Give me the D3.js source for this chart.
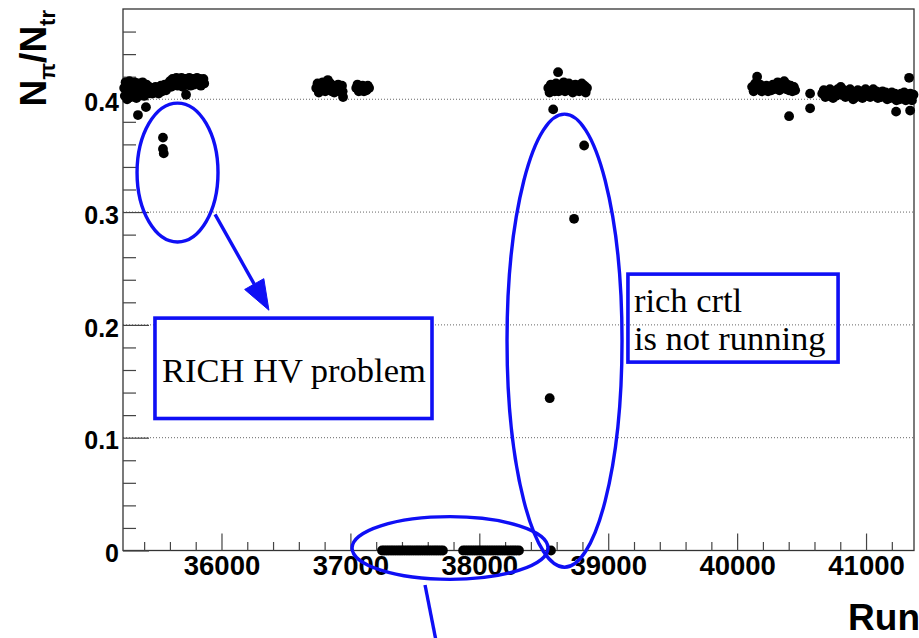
<!DOCTYPE html>
<html>
<head>
<meta charset="utf-8">
<script src="https://cdn.jsdelivr.net/npm/d3@7"></script>
<style>
  html, body { margin: 0; padding: 0; background: #ffffff; }
  svg { display: block; }
</style>
</head>
<body>
<script>
// Pion fraction N_pi/N_tr per run.
const runNumber = [
  // 35200-35900 period
  35245, 35250, 35256, 35262, 35268, 35274, 35280, 35286, 35292, 35298,
  35304, 35310, 35316, 35322, 35328, 35334, 35340, 35346, 35352, 35358,
  35364, 35370, 35376, 35382, 35388, 35394, 35400, 35406, 35412, 35418,
  35424, 35432, 35440, 35448, 35456, 35464, 35472, 35480, 35488, 35496,
  35504, 35512, 35520, 35530, 35540, 35550, 35560, 35570, 35580, 35590,
  35600, 35610, 35620, 35630, 35640, 35650, 35660, 35670, 35680, 35690,
  35700, 35710, 35720, 35725, 35730, 35740, 35750, 35760, 35770, 35780,
  35790, 35800, 35810, 35820, 35830, 35840, 35850, 35860, 35866,
  35352, 35414, 35546, 35546, 35552,
  // 36700-37200 period
  36735, 36745, 36755, 36765, 36775, 36785, 36795, 36805, 36815, 36825,
  36835, 36845, 36855, 36865, 36875, 36885, 36895, 36905, 36915, 36925,
  36935, 36940, 36943,
  37045, 37055, 37065, 37075, 37085, 37095, 37105, 37115, 37125, 37135, 37145,
  // 37200-38350: empty ratio
  37245, 37262, 37280, 37297, 37315, 37332, 37350, 37368, 37385, 37402,
  37420, 37438, 37455, 37472, 37490, 37508, 37525, 37542, 37560, 37578,
  37595, 37612, 37630, 37648, 37665, 37682, 37700, 37718,
  37874, 37892, 37910, 37928, 37946, 37964, 37982, 38000, 38018, 38036,
  38054, 38072, 38090, 38108, 38126, 38144, 38162, 38180, 38198, 38216,
  38234, 38252, 38270, 38288, 38308,
  // 38500-38850 period
  38535, 38545, 38555, 38565, 38575, 38585, 38595, 38605, 38615, 38625,
  38635, 38645, 38655, 38665, 38675, 38685, 38695, 38705, 38715, 38725,
  38735, 38745, 38755, 38765, 38775, 38785, 38795, 38805, 38815, 38825, 38835,
  38611, 38573, 38813, 38735, 38546, 38556,
  // 40100-40450 period
  40116, 40128, 40140, 40155, 40165, 40178, 40190, 40202, 40215, 40228,
  40240, 40252, 40265, 40278, 40290, 40302, 40315, 40328, 40340, 40352,
  40365, 40378, 40390, 40402, 40415, 40428, 40440, 40450,
  40403, 40566, 40566,
  // 40650-41370 period
  40660, 40672, 40684, 40696, 40708, 40720, 40732, 40744, 40756, 40768,
  40780, 40792, 40804, 40816, 40828, 40840, 40852, 40864, 40876, 40888,
  40900, 40912, 40924, 40936, 40948, 40960, 40972, 40984, 40996, 41008,
  41020, 41032, 41044, 41056, 41068, 41080, 41092, 41104, 41116, 41128,
  41140, 41152, 41164, 41176, 41188, 41200, 41212, 41224, 41236, 41248,
  41260, 41272, 41284, 41296, 41308, 41320, 41332, 41344, 41356, 41368,
  41334, 41233, 41342
];

const pionFraction = [
  0.410, 0.403, 0.415, 0.408, 0.400, 0.412, 0.405, 0.416, 0.410, 0.402,
  0.413, 0.407, 0.411, 0.404, 0.415, 0.409, 0.401, 0.412, 0.406, 0.414,
  0.410, 0.404, 0.412, 0.407, 0.415, 0.409, 0.403, 0.411, 0.406, 0.413,
  0.409, 0.405, 0.411, 0.407, 0.410, 0.405, 0.409, 0.406, 0.411, 0.407,
  0.410, 0.405, 0.409, 0.412, 0.407, 0.410, 0.413, 0.408, 0.411, 0.414,
  0.416, 0.411, 0.418, 0.413, 0.416, 0.419, 0.412, 0.417, 0.414, 0.419,
  0.411, 0.416, 0.418, 0.404, 0.413, 0.417, 0.419, 0.412, 0.416, 0.418,
  0.413, 0.417, 0.419, 0.414, 0.418, 0.412, 0.416, 0.418, 0.414,
  0.386, 0.393, 0.366, 0.356, 0.352,

  0.410, 0.414, 0.406, 0.412, 0.408, 0.415, 0.411, 0.407, 0.413, 0.417,
  0.410, 0.414, 0.407, 0.412, 0.406, 0.411, 0.408, 0.413, 0.407, 0.410,
  0.412, 0.407, 0.402,
  0.410, 0.413, 0.407, 0.411, 0.408, 0.412, 0.407, 0.411, 0.408, 0.412, 0.410,

  0, 0, 0, 0, 0, 0, 0, 0, 0, 0,
  0, 0, 0, 0, 0, 0, 0, 0, 0, 0,
  0, 0, 0, 0, 0, 0, 0, 0,
  0, 0, 0, 0, 0, 0, 0, 0, 0, 0,
  0, 0, 0, 0, 0, 0, 0, 0, 0, 0,
  0, 0, 0, 0, 0,

  0.410, 0.406, 0.413, 0.408, 0.412, 0.407, 0.414, 0.410, 0.407, 0.413,
  0.408, 0.411, 0.415, 0.407, 0.412, 0.409, 0.414, 0.408, 0.412, 0.406,
  0.411, 0.413, 0.408, 0.412, 0.407, 0.411, 0.414, 0.408, 0.412, 0.406, 0.410,
  0.424, 0.391, 0.359, 0.294, 0.135, 0.000,

  0.411, 0.407, 0.414, 0.420, 0.410, 0.413, 0.407, 0.411, 0.408, 0.412,
  0.407, 0.411, 0.408, 0.413, 0.409, 0.412, 0.415, 0.408, 0.413, 0.410,
  0.416, 0.409, 0.413, 0.408, 0.412, 0.407, 0.411, 0.408,
  0.385, 0.405, 0.392,

  0.405, 0.408, 0.402, 0.407, 0.403, 0.409, 0.405, 0.401, 0.407, 0.403,
  0.409, 0.405, 0.411, 0.404, 0.408, 0.402, 0.407, 0.403, 0.409, 0.405,
  0.400, 0.406, 0.402, 0.408, 0.403, 0.407, 0.401, 0.406, 0.409, 0.403,
  0.407, 0.402, 0.406, 0.409, 0.403, 0.407, 0.401, 0.406, 0.402, 0.407,
  0.403, 0.406, 0.400, 0.405, 0.401, 0.406, 0.402, 0.405, 0.399, 0.404,
  0.400, 0.405, 0.401, 0.406, 0.399, 0.404, 0.400, 0.405, 0.399, 0.404,
  0.419, 0.389, 0.390
];

// Axis ticks
const runMajorTicks = [36000, 37000, 38000, 39000, 40000, 41000];
const runMinorTicks = [35400, 35600, 35800, 36200, 36400, 36600, 36800, 37200, 37400, 37600, 37800,
  38200, 38400, 38600, 38800, 39200, 39400, 39600, 39800, 40200, 40400, 40600, 40800, 41200];
const fractionMajorTicks = [0, 0.1, 0.2, 0.3, 0.4];
const fractionMinorTicks = [0.02, 0.04, 0.06, 0.08, 0.12, 0.14, 0.16, 0.18, 0.22, 0.24, 0.26, 0.28,
  0.32, 0.34, 0.36, 0.38, 0.42, 0.44, 0.46];
const gridValues = [0.1, 0.2, 0.3, 0.4];

// Run-range and fraction extent of the frame
const runRange = [35236, 41372];
const fractionRange = [0, 0.48];

// Comment shapes, given in run / fraction units
const hvEllipse = { run: 35659, value: 0.335, dRun: 314, dValue: 0.0616 };
const hvArrow = { run0: 35950, value0: 0.298, run1: 36368, value1: 0.213 };
const hvBox = { run0: 35484, value0: 0.206, run1: 37633, value1: 0.117 };
const crtlEllipse = { run: 38661, value: 0.186, dRun: 446, dValue: 0.2008 };
const crtlBox = { run0: 39153, value0: 0.245, run1: 40783, value1: 0.167 };
const emptyEllipse = { run: 37773, value: 0.0022, dRun: 760, dValue: 0.0278 };
const emptyLine = { run0: 37579, value0: -0.0306, run1: 37690, value1: -0.095 };

const W = 919, H = 638;
const margin = { left: 123, top: 9, right: 5, bottom: 87.5 };
const blue = "#0f0ff5";
const sans = "'Liberation Sans', Arial, Helvetica, sans-serif";
const serif = "'Liberation Serif', 'Times New Roman', Times, serif";

const svg = d3.select("body").append("svg")
  .attr("width", W).attr("height", H);

const x = d3.scaleLinear().domain(runRange).range([margin.left, W - margin.right]);
const y = d3.scaleLinear().domain(fractionRange).range([H - margin.bottom, margin.top]);

// Dotted horizontal grid
svg.append("g").selectAll("line").data(gridValues).join("line")
  .attr("x1", x.range()[0]).attr("x2", x.range()[1])
  .attr("y1", d => y(d)).attr("y2", d => y(d))
  .attr("stroke", "#666").attr("stroke-width", 1)
  .attr("stroke-dasharray", "1,2");

// Frame
svg.append("rect")
  .attr("x", x.range()[0]).attr("y", y.range()[1])
  .attr("width", x.range()[1] - x.range()[0])
  .attr("height", y.range()[0] - y.range()[1])
  .attr("fill", "none").attr("stroke", "#333").attr("stroke-width", 1.3);

// X axis: major + minor ticks pointing into the frame
const xAxisG = svg.append("g").attr("transform", `translate(0,${y(0)})`);
xAxisG.append("g")
  .call(d3.axisBottom(x).tickValues(runMinorTicks).tickSize(-8.5).tickFormat(""))
  .call(g => g.select(".domain").remove());
xAxisG.append("g")
  .call(d3.axisBottom(x).tickValues(runMajorTicks).tickSize(-17).tickPadding(5).tickFormat(d3.format("d")))
  .call(g => g.select(".domain").remove())
  .call(g => g.selectAll("text")
    .attr("font-family", sans).attr("font-weight", "bold")
    .attr("font-size", 27.5).attr("fill", "#000"));
xAxisG.selectAll(".tick line").attr("stroke", "#444").attr("stroke-width", 1.2);

// Y axis
const yAxisG = svg.append("g").attr("transform", `translate(${x(runRange[0])},0)`);
yAxisG.append("g")
  .call(d3.axisLeft(y).tickValues(fractionMinorTicks).tickSize(-13).tickFormat(""))
  .call(g => g.select(".domain").remove());
yAxisG.append("g")
  .call(d3.axisLeft(y).tickValues(fractionMajorTicks).tickSize(-26).tickPadding(4)
    .tickFormat(d => d === 0 ? "0" : d3.format(".1f")(d)))
  .call(g => g.select(".domain").remove())
  .call(g => g.selectAll("text")
    .attr("font-family", sans).attr("font-weight", "bold")
    .attr("font-size", 25).attr("dy", "0.45em").attr("fill", "#000"));
yAxisG.selectAll(".tick line").attr("stroke", "#444").attr("stroke-width", 1.2);

// Data points
svg.append("g").selectAll("circle")
  .data(runNumber.map((r, i) => ({ run: r, value: pionFraction[i] })))
  .join("circle")
  .attr("cx", d => x(d.run))
  .attr("cy", d => y(d.value))
  .attr("r", 4.9)
  .attr("fill", "#000");

// Axis titles
const yTitle = svg.append("text")
  .attr("transform", "translate(46,10) rotate(-90)")
  .attr("text-anchor", "end")
  .attr("font-family", sans).attr("font-weight", "bold")
  .attr("font-size", 37).attr("fill", "#000");
yTitle.append("tspan").text("N");
yTitle.append("tspan").attr("font-size", 22).attr("dy", 9).text("π");
yTitle.append("tspan").attr("dy", -9).text("/N");
yTitle.append("tspan").attr("font-size", 22).attr("dy", 9).text("tr");

svg.append("text")
  .attr("x", 920).attr("y", 630)
  .attr("text-anchor", "end")
  .attr("font-family", sans).attr("font-weight", "bold")
  .attr("font-size", 37).attr("fill", "#000")
  .text("Run");

// Comments
const notes = svg.append("g").attr("fill", "none").attr("stroke", blue).attr("stroke-width", 3.4);

function drawEllipse(e) {
  notes.append("ellipse")
    .attr("cx", x(e.run)).attr("cy", y(e.value))
    .attr("rx", x(e.run + e.dRun) - x(e.run))
    .attr("ry", y(e.value - e.dValue) - y(e.value));
}
function drawBox(b, fill) {
  notes.append("rect")
    .attr("x", x(b.run0)).attr("y", y(b.value0))
    .attr("width", x(b.run1) - x(b.run0))
    .attr("height", y(b.value1) - y(b.value0))
    .attr("fill", fill).attr("stroke-width", 3.6);
}

drawEllipse(hvEllipse);
drawEllipse(crtlEllipse);
drawEllipse(emptyEllipse);

// HV arrow with filled head
{
  const x0 = x(hvArrow.run0), y0 = y(hvArrow.value0);
  const x1 = x(hvArrow.run1), y1 = y(hvArrow.value1);
  const len = Math.hypot(x1 - x0, y1 - y0);
  const ux = (x1 - x0) / len, uy = (y1 - y0) / len;
  const headLen = 30, headHalf = 11;
  const bx = x1 - ux * headLen, by = y1 - uy * headLen;
  notes.append("line")
    .attr("x1", x0).attr("y1", y0).attr("x2", bx).attr("y2", by);
  notes.append("path")
    .attr("d", `M${x1},${y1}L${bx + uy * headHalf},${by - ux * headHalf}L${bx - uy * headHalf},${by + ux * headHalf}Z`)
    .attr("fill", blue).attr("stroke-width", 1);
}

notes.append("line")
  .attr("x1", x(emptyLine.run0)).attr("y1", y(emptyLine.value0))
  .attr("x2", x(emptyLine.run1)).attr("y2", y(emptyLine.value1));

drawBox(hvBox, "#ffffff");
drawBox(crtlBox, "none");

const noteText = svg.append("g")
  .attr("font-family", serif).attr("font-size", 34.5).attr("fill", "#000");
noteText.append("text")
  .attr("x", x(hvBox.run0) + 7).attr("y", y(hvBox.value0) + 64)
  .text("RICH HV problem");
noteText.append("text")
  .attr("x", x(crtlBox.run0) + 6).attr("y", y(crtlBox.value0) + 38)
  .text("rich crtl");
noteText.append("text")
  .attr("x", x(crtlBox.run0) + 6).attr("y", y(crtlBox.value0) + 76)
  .text("is not running");
</script>
</body>
</html>
